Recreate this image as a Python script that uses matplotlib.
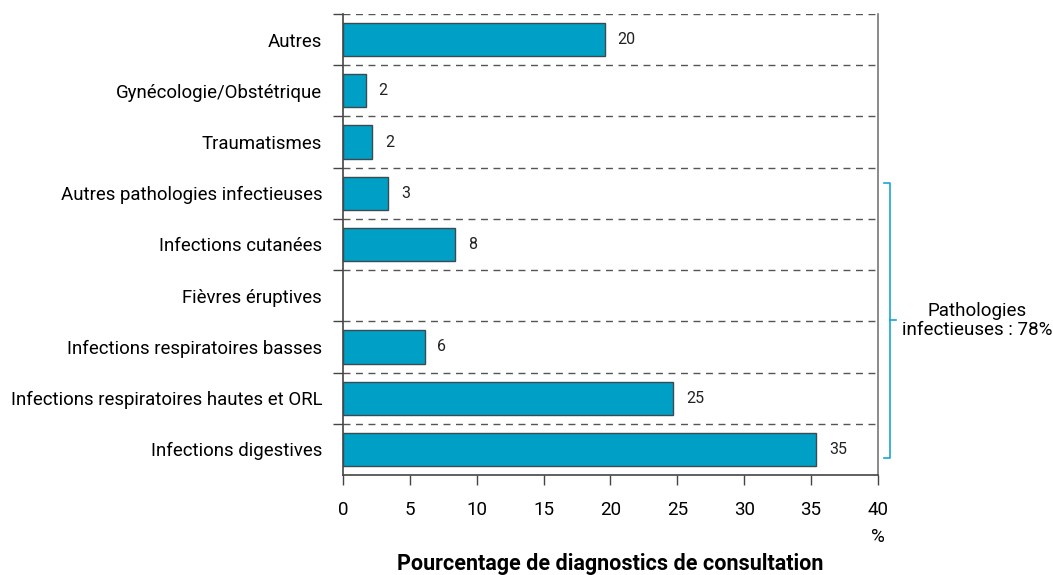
import matplotlib.pyplot as plt
from matplotlib import font_manager
from matplotlib.lines import Line2D

# pick a narrow font if present
names = {f.name for f in font_manager.fontManager.ttflist}
if "Liberation Sans Narrow" in names:
    plt.rcParams["font.family"] = ["Liberation Sans Narrow", "DejaVu Sans"]
else:
    plt.rcParams["font.family"] = ["Roboto", "DejaVu Sans"]

#
# Data (top to bottom as in the figure)
#
categories = [
    "Autres",
    "Gynécologie/Obstétrique",
    "Traumatismes",
    "Autres pathologies infectieuses",
    "Infections cutanées",
    "Fièvres éruptives",
    "Infections respiratoires basses",
    "Infections respiratoires hautes et ORL",
    "Infections digestives",
]
values = [19.6, 1.7, 2.2, 3.4, 8.4, 0.0, 6.1, 24.7, 35.4]
value_labels = ["20", "2", "2", "3", "8", "", "6", "25", "35"]
xticks = [0, 5, 10, 15, 20, 25, 30, 35, 40]

# reverse so the first category ends up on top
cats = categories[::-1]
vals = values[::-1]
labs = value_labels[::-1]
ypos = list(range(len(cats)))

fig = plt.figure(figsize=(10.53, 5.75), dpi=100)
ax = fig.add_axes([0.3257, 0.1739, 0.5081, 0.8018])

# skip empty categories so no zero-width outline is drawn
bar_y = [y for y, v in zip(ypos, vals) if v > 0]
bar_v = [v for v in vals if v > 0]
ax.barh(bar_y, bar_v, height=0.65, color="#00a0c6", edgecolor="#3a4a50", linewidth=1.0, zorder=3)

for y, v, t in zip(ypos, vals, labs):
    if t:
        ax.annotate(t, (v, y), xytext=(9, 0), textcoords="offset points",
                    va="center", ha="left", fontsize=11.5, color="#222222")

ax.set_xlim(0, 40)
ax.set_ylim(-0.5, len(cats) - 0.5)
ax.set_xticks(xticks)
ax.set_xticklabels([str(x) for x in xticks], fontsize=13.5)
ax.set_yticks(ypos)
ax.set_yticklabels(cats, fontsize=13.4)
ax.tick_params(axis="y", which="major", length=0, pad=15)

# boundaries between categories: minor ticks + dashed grid
bounds = [y + 0.5 for y in ypos]
ax.set_yticks(bounds, minor=True)
ax.tick_params(axis="y", which="minor", length=7, width=1, color="#444444")
ax.grid(axis="y", which="minor", linestyle=(0, (5, 4)), color="#555555", linewidth=1, zorder=0)
ax.tick_params(axis="x", length=7, width=1, color="#444444", pad=12)

for s in ["left", "bottom", "right"]:
    ax.spines[s].set_color("#444444")
    ax.spines[s].set_linewidth(1.2)
ax.spines["right"].set_color("#777777")
ax.spines["top"].set_visible(False)

# "%" under the last tick and bold x label
fig.text(878 / 1053, 1 - 537 / 575, "%", ha="center", va="center", fontsize=13.5)
fig.text(610 / 1053, 1 - 564 / 575, "Pourcentage de diagnostics de consultation",
         ha="center", va="center", fontsize=15.5, fontweight="bold")

# brace around infectious pathologies
tr = ax.get_yaxis_transform()
bx, hx, mx = 1.0224, 1.0112, 1.0336
top, bot, mid = 5.2, -0.17, 2.52
brace = "#1aa6cf"
for xs, ys in [([hx, bx, bx, hx], [top, top, bot, bot]), ([bx, mx], [mid, mid])]:
    ax.add_line(Line2D(xs, ys, transform=tr, color=brace, linewidth=1.2, clip_on=False))
ax.text(1.185, mid, "Pathologies\ninfectieuses : 78%", transform=tr, ha="center", va="center",
        fontsize=13.5, linespacing=1.05)

fig.savefig("out.png", dpi=100)
